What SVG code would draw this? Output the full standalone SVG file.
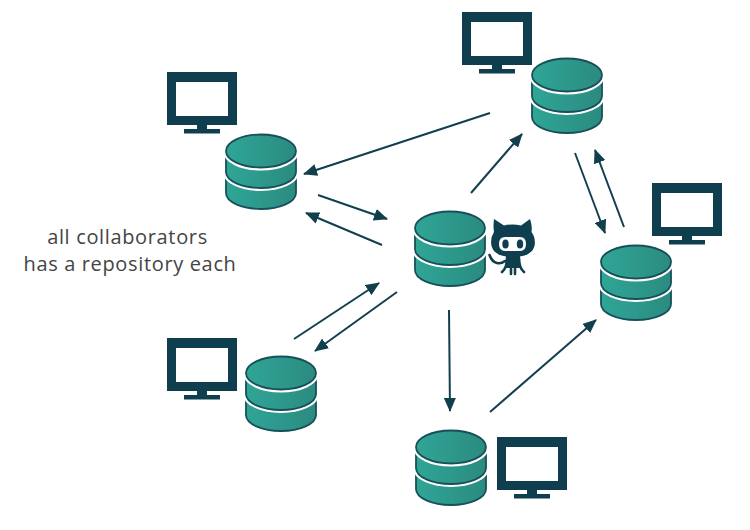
<svg xmlns="http://www.w3.org/2000/svg" width="750" height="530" viewBox="0 0 750 530">
<style>
.link{stroke:#123f4e;stroke-width:2;fill:none;marker-end:url(#arr)}
.disk{fill:url(#teal);stroke:#17505a;stroke-width:1.8}
.halo{fill:#fff;stroke:#fff;stroke-width:6}
.dark{fill:#0f3f4e}
.leg{stroke:#0f3f4e;stroke-width:2.600;fill:none;stroke-linecap:round}
text{font-family:"Open Sans","Noto Sans",sans-serif;font-size:20px;letter-spacing:.65px;fill:#444;text-anchor:middle}
</style>
<defs>
<linearGradient id="teal" gradientUnits="userSpaceOnUse" x1="0" x2="72" y1="0" y2="0"><stop offset="0" stop-color="#2fa696"/><stop offset="1" stop-color="#2b8a80"/></linearGradient>
<marker id="arr" viewBox="0 0 14 12" refX="13" refY="6" markerWidth="14" markerHeight="12" markerUnits="userSpaceOnUse" orient="auto"><path d="M0 0L14 6L0 12Z" fill="#123f4e"/></marker>
<symbol id="db" width="72" height="76" viewBox="0 0 72 76" overflow="visible">
<path class="disk" d="M1 42V59C1 68 17 75 36 75S71 68 71 59V42Z"/>
<path class="halo" d="M1 22V38C1 47 17 54 36 54S71 47 71 38V22Z"/>
<path class="disk" d="M1 22V38C1 47 17 54 36 54S71 47 71 38V22Z"/>
<ellipse class="halo" cx="36" cy="17" rx="35" ry="16.500"/>
<ellipse class="disk" cx="36" cy="17" rx="35" ry="16.500"/>
</symbol>
<symbol id="mon" width="70" height="63" viewBox="0 0 70 63">
<path class="dark" fill-rule="evenodd" d="M0 0H70V53H40V57H53V61.500H17V57H30V53H0ZM9 10V44H61V10Z"/>
</symbol>
</defs>
<rect width="750" height="530" fill="#fff"/>
<g id="connectors">
<line class="link" x1="490" y1="113" x2="304" y2="174"/>
<line class="link" x1="318" y1="195" x2="387" y2="219"/>
<line class="link" x1="382" y1="245" x2="306" y2="213"/>
<line class="link" x1="471" y1="193" x2="522" y2="134"/>
<line class="link" x1="575" y1="153" x2="605" y2="233"/>
<line class="link" x1="624" y1="227" x2="595" y2="150"/>
<line class="link" x1="397" y1="292" x2="315" y2="351"/>
<line class="link" x1="294" y1="339" x2="379" y2="283"/>
<line class="link" x1="449" y1="310" x2="450" y2="411"/>
<line class="link" x1="490" y1="412" x2="596" y2="320"/>
</g>
<g id="node-left"><use href="#mon" x="167" y="72"/><use href="#db" x="225" y="134"/></g>
<g id="node-top"><use href="#mon" x="462" y="12"/><use href="#db" x="531" y="58"/></g>
<g id="node-right"><use href="#mon" x="652" y="183"/><use href="#db" x="600" y="245"/></g>
<g id="node-lower-left"><use href="#mon" x="167" y="338"/><use href="#db" x="245" y="356"/></g>
<g id="node-bottom"><use href="#mon" x="497" y="437"/><use href="#db" x="415" y="430"/></g>
<g id="node-center"><use href="#db" x="414" y="211"/>
<g id="octocat">
<path class="dark" d="M494 219L504 225.500Q512.500 223.500 521 225.500L530 219Q532.500 226 531.500 232Q536 238 534.500 246Q532 255 520 256.500V268H506V256.500Q494 255 491.500 246Q490 238 494 232Q493 226 494 219Z"/>
<path class="leg" d="M507 258Q507 268 502 272M511 260V274M515 260V274M519 258Q519 268 524 272M489.500 255Q492 262 497 263Q501 264 505 261"/>
<path d="M505 237H520Q526 237 526 244Q526 251 520 251H505Q499 251 499 244Q499 237 505 237Z" fill="#fff"/>
<ellipse cx="505.500" cy="244" rx="3.200" ry="4.500" class="dark"/><ellipse cx="520" cy="244" rx="3.200" ry="4.500" class="dark"/>
</g></g>
<g id="caption"><text x="127.500" y="243.500">all collaborators</text><text x="130" y="271">has a repository each</text></g>
</svg>
